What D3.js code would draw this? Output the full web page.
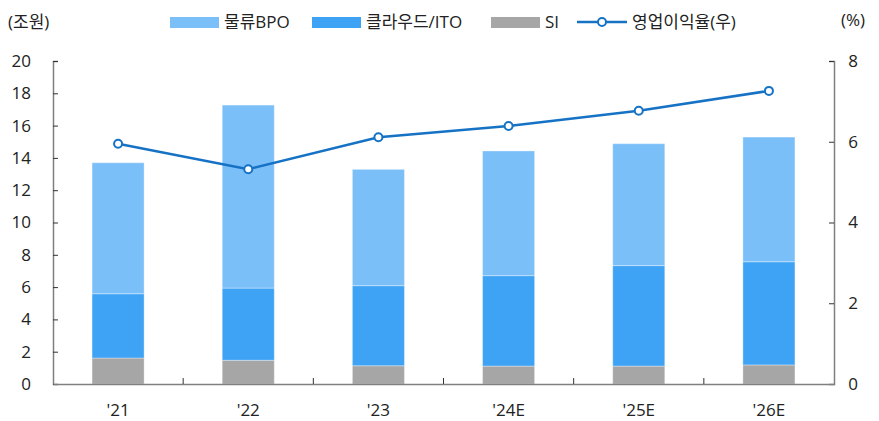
<!DOCTYPE html>
<html>
<head>
<meta charset="utf-8">
<script src="https://cdn.jsdelivr.net/npm/d3@7"></script>
<style>
  body { margin: 0; background: #fff; }
  text { font-family: "Open Sans", "Noto Sans CJK KR", sans-serif; fill: #222; }
</style>
</head>
<body>
<div id="chart"></div>
<script>
// data
const years = ["'21", "'22", "'23", "'24E", "'25E", "'26E"]
const si = [1.61, 1.47, 1.13, 1.11, 1.11, 1.18]
const cloudIto = [3.98, 4.47, 4.96, 5.60, 6.22, 6.39]
const logisticsBpo = [8.11, 11.33, 7.20, 7.72, 7.55, 7.72]
const opMargin = [5.95, 5.32, 6.11, 6.39, 6.77, 7.26]

const leftTicks = [0, 2, 4, 6, 8, 10, 12, 14, 16, 18, 20]
const rightTicks = [0, 2, 4, 6, 8]

const seriesKeys = ['si', 'cloud', 'bpo']
const seriesNames = { bpo: '물류BPO', cloud: '클라우드/ITO', si: 'SI' }
const colors = { bpo: '#7bbff9', cloud: '#3fa3f5', si: '#a6a6a6' }
const lineColor = '#1672c4'

const width = 879, height = 421
const margin = { top: 61, right: 45, bottom: 37, left: 53 }
const fontSize = '17px'

let svg = d3.select('#chart').append('svg')
    .attr('width', width)
    .attr('height', height)

let x = d3.scaleBand()
    .domain(years)
    .range([margin.left, width - margin.right])
    .paddingInner(0.6)
    .paddingOuter(0.3)

let yL = d3.scaleLinear().domain([0, 20]).range([height - margin.bottom, margin.top])
let yR = d3.scaleLinear().domain([0, 8]).range([height - margin.bottom, margin.top])

let table = years.map((yr, i) => ({ year: yr, si: si[i], cloud: cloudIto[i], bpo: logisticsBpo[i] }))
let stacked = d3.stack().keys(seriesKeys)(table)

// bars
svg.append('g').selectAll('g')
    .data(stacked)
    .enter().append('g')
    .attr('fill', d => colors[d.key])
    .selectAll('rect')
    .data(d => d)
    .enter().append('rect')
    .attr('x', d => x(d.data.year))
    .attr('width', x.bandwidth())
    .attr('y', d => yL(d[1]))
    .attr('height', d => yL(d[0]) - yL(d[1]))
    .attr('stroke', 'rgba(255,255,255,0.35)')
    .attr('stroke-width', 1)

// axes
const axisColor = '#7f7f7f'
let yLeft = svg.append('g')
    .attr('transform', `translate(${margin.left},0)`)
    .call(d3.axisRight(yL).tickValues(leftTicks).tickSize(5).tickFormat(''))
let yRight = svg.append('g')
    .attr('transform', `translate(${width - margin.right},0)`)
    .call(d3.axisLeft(yR).tickValues(rightTicks).tickSize(5).tickFormat(''))
let xAxis = svg.append('g')
    .attr('transform', `translate(0,${height - margin.bottom})`)
    .call(d3.axisBottom(x).tickSize(0).tickFormat(''))

for (let ax of [yLeft, yRight, xAxis]) {
    ax.select('.domain').attr('stroke', axisColor).attr('stroke-width', 1.5)
    ax.selectAll('.tick line').attr('stroke', '#333')
}

// x ticks sit between categories and point up
let step = x.step()
let bounds = years.slice(1).map(d => x(d) - step * x.paddingInner() / 2)
svg.append('g').selectAll('line')
    .data(bounds)
    .enter().append('line')
    .attr('x1', d => d).attr('x2', d => d)
    .attr('y1', height - margin.bottom).attr('y2', height - margin.bottom - 6)
    .attr('stroke', '#333')

// tick labels
svg.append('g').selectAll('text')
    .data(leftTicks)
    .enter().append('text')
    .attr('x', 31)
    .attr('y', d => yL(d))
    .attr('dy', '0.35em')
    .attr('text-anchor', 'end')
    .style('font-size', fontSize)
    .text(d => d)

svg.append('g').selectAll('text')
    .data(rightTicks)
    .enter().append('text')
    .attr('x', width - margin.right + 19)
    .attr('y', d => yR(d))
    .attr('dy', '0.35em')
    .attr('text-anchor', 'middle')
    .style('font-size', fontSize)
    .text(d => d)

svg.append('g').selectAll('text')
    .data(years)
    .enter().append('text')
    .attr('x', d => x(d) + x.bandwidth() / 2)
    .attr('y', height - margin.bottom + 26)
    .attr('dy', '0.35em')
    .attr('text-anchor', 'middle')
    .style('font-size', fontSize)
    .text(d => d)

// line
let line = d3.line()
    .x((d, i) => x(years[i]) + x.bandwidth() / 2)
    .y(d => yR(d))
svg.append('path')
    .datum(opMargin)
    .attr('d', line)
    .attr('fill', 'none')
    .attr('stroke', lineColor)
    .attr('stroke-width', 2.5)
svg.append('g').selectAll('circle')
    .data(opMargin)
    .enter().append('circle')
    .attr('cx', (d, i) => x(years[i]) + x.bandwidth() / 2)
    .attr('cy', d => yR(d))
    .attr('r', 4)
    .attr('fill', '#fff')
    .attr('stroke', lineColor)
    .attr('stroke-width', 2)

// unit labels
svg.append('text').attr('x', 8).attr('y', 22).attr('dy', '0.35em').style('font-size', fontSize).text('(조원)')
svg.append('text').attr('x', 853).attr('y', 20).attr('dy', '0.35em').attr('text-anchor', 'middle').style('font-size', fontSize).text('(%)')

// legend
let legendItems = [
    { key: 'bpo', x: 170 },
    { key: 'cloud', x: 312 },
    { key: 'si', x: 491 }
]
let legend = svg.append('g')
for (let item of legendItems) {
    legend.append('rect')
        .attr('x', item.x).attr('y', 17)
        .attr('width', 49).attr('height', 11)
        .attr('fill', colors[item.key])
    legend.append('text')
        .attr('x', item.x + 54).attr('y', 22)
        .attr('dy', '0.35em')
        .style('font-size', fontSize)
        .text(seriesNames[item.key])
}
legend.append('line')
    .attr('x1', 577).attr('x2', 627)
    .attr('y1', 22).attr('y2', 22)
    .attr('stroke', lineColor).attr('stroke-width', 2.5)
legend.append('circle')
    .attr('cx', 602).attr('cy', 22).attr('r', 4)
    .attr('fill', '#fff').attr('stroke', lineColor).attr('stroke-width', 2)
legend.append('text')
    .attr('x', 632).attr('y', 22)
    .attr('dy', '0.35em')
    .style('font-size', fontSize)
    .text('영업이익율(우)')
</script>
</body>
</html>
